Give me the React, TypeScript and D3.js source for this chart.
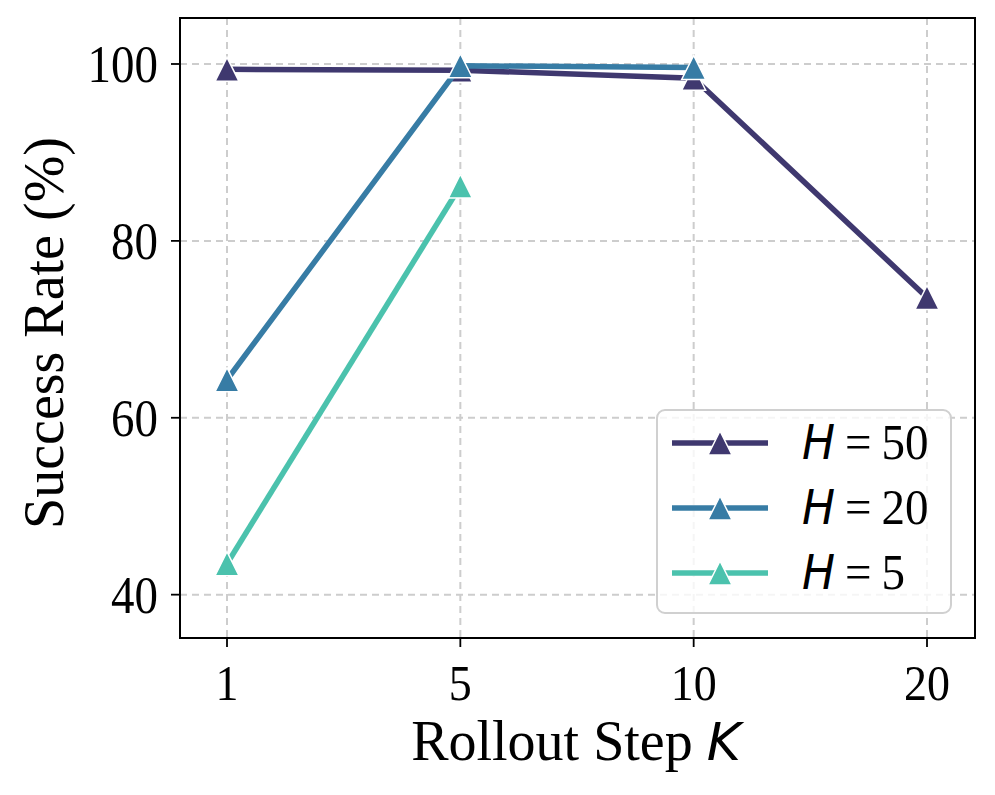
import React from "react";
import * as d3 from "d3";

const kSteps = ["1", "5", "10", "20"];
const yTicks = [40, 60, 80, 100];
const seriesNames = ["50", "20", "5"];
const h50 = [99.4, 99.3, 98.4, 73.6];
const h20 = [64.3, 99.8, 99.6];
const h5 = [43.5, 86.2];
const colors = ["#3f386f", "#377ca5", "#4bc2ad"];

const W = 995;
const H = 795;
const L = 180, R = 975, T = 18, B = 638;

export default function App() {
  const x = d3.scalePoint<string>().domain(kSteps).range([227, 927]);
  const y = d3.scaleLinear().domain([35.1, 105.2]).range([B, T]);
  const series = [h50, h20, h5].map((vals, i) => ({
    name: seriesNames[i],
    color: colors[i],
    pts: vals.map((v, j) => [x(kSteps[j]) as number, y(v)] as [number, number]),
  }));
  const line = d3.line<[number, number]>();
  const tri = (cx: number, cy: number, s = 24) =>
    `M${cx},${cy - s / 2}L${cx - s / 2},${cy + s / 2}L${cx + s / 2},${cy + s / 2}Z`;
  const serif = "'Liberation Serif', 'Times New Roman', serif";
  const sans = "'DejaVu Sans', sans-serif";
  const legX = 657, legY = 410, legW = 294, legH = 203;
  const rowY = [443, 508, 573];

  return (
    <svg width={W} height={H} style={{ position: "absolute", left: 0, top: 0, background: "#fff" }}>
      <rect x={0} y={0} width={W} height={H} fill="#fff" />
      {kSteps.map((k) => (
        <line key={"gx" + k} x1={x(k)} x2={x(k)} y1={T} y2={B} stroke="#cdcdcd" strokeWidth={2} strokeDasharray="7,5" />
      ))}
      {yTicks.map((t) => (
        <line key={"gy" + t} x1={L} x2={R} y1={y(t)} y2={y(t)} stroke="#cdcdcd" strokeWidth={2} strokeDasharray="7,5" />
      ))}
      {series.map((s) => (
        <g key={s.name}>
          <path d={line(s.pts) || ""} fill="none" stroke={s.color} strokeWidth={5.5} />
          {s.pts.map((p, j) => (
            <path key={j} d={tri(p[0], p[1])} fill={s.color} stroke="#fff" strokeWidth={1.5} />
          ))}
        </g>
      ))}
      <rect x={L} y={T} width={R - L} height={B - T} fill="none" stroke="#000" strokeWidth={2} />
      {kSteps.map((k) => (
        <g key={"xt" + k}>
          <line x1={x(k)} x2={x(k)} y1={B} y2={B + 9} stroke="#000" strokeWidth={1.8} />
          <text transform={`translate(${x(k)},${B + 62}) scale(1,1.1)`} textAnchor="middle" fontFamily={serif} fontSize={46} fill="#000">{k}</text>
        </g>
      ))}
      {yTicks.map((t) => (
        <g key={"yt" + t}>
          <line x1={L - 9} x2={L} y1={y(t)} y2={y(t)} stroke="#000" strokeWidth={1.8} />
          <text transform={`translate(${L - 22},${y(t) + 18}) scale(1,1.12)`} textAnchor="end" fontFamily={serif} fontSize={47} fill="#000">{t}</text>
        </g>
      ))}
      <text x={576} y={760} textAnchor="middle" fontFamily={serif} fontSize={56} fill="#000">
        Rollout Step <tspan fontFamily={sans} fontStyle="italic" fontSize={52}>K</tspan>
      </text>
      <text transform={`translate(63,${333}) rotate(-90)`} textAnchor="middle" fontFamily={serif} fontSize={56} fill="#000">
        Success Rate (%)
      </text>
      <rect x={legX} y={legY} width={legW} height={legH} rx={8} fill="#fff" fillOpacity={0.8} stroke="#d0d0d0" strokeWidth={2} />
      {series.map((s, i) => (
        <g key={"lg" + s.name}>
          <line x1={672} x2={768} y1={rowY[i]} y2={rowY[i]} stroke={s.color} strokeWidth={5.5} />
          <path d={tri(720, rowY[i])} fill={s.color} stroke="#fff" strokeWidth={1.5} />
          <text transform={`translate(802,${rowY[i] + 16}) scale(1,1.08)`} fontFamily={serif} fontSize={47} fill="#000">
            <tspan fontFamily={sans} fontStyle="italic" fontSize={44}>H</tspan>
            <tspan dx={10}>=</tspan>
            <tspan dx={10}>{s.name}</tspan>
          </text>
        </g>
      ))}
    </svg>
  );
}
